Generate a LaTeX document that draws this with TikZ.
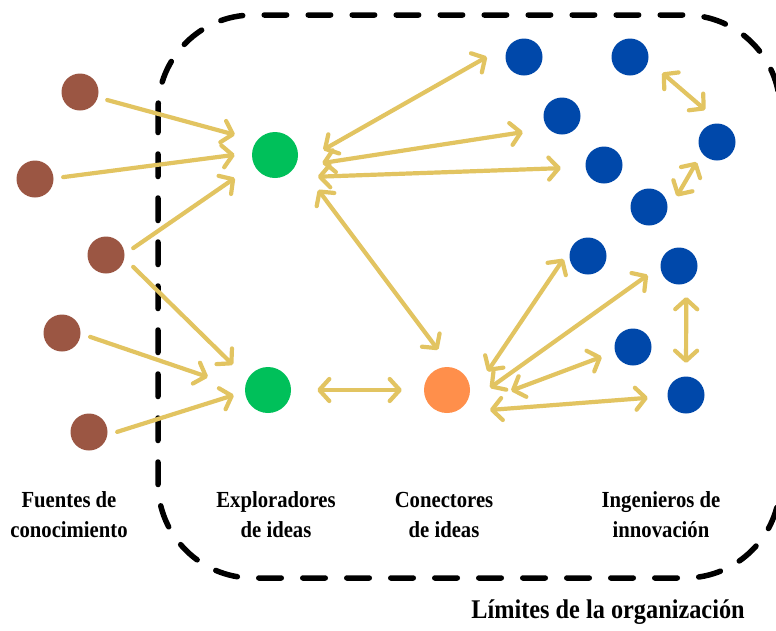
\documentclass[tikz,border=0pt]{standalone}
\usepackage{fontspec}
\setmainfont{Liberation Serif}[FakeStretch=0.9]
\usetikzlibrary{arrows.meta}
\definecolor{cbrown}{HTML}{9B5643}
\definecolor{cgreen}{HTML}{00C05A}
\definecolor{corange}{HTML}{FF8F4B}
\definecolor{cblue}{HTML}{0048AA}
\definecolor{cgold}{HTML}{E2C461}
\begin{document}
\begin{tikzpicture}[x=1pt,y=-1pt,
  >={Straight Barb[length=10pt,width=22pt,round]},
  dot/.style={circle, inner sep=0pt, minimum size=37pt},
  bigdot/.style={circle, inner sep=0pt, minimum size=46pt},
  src/.style={dot, fill=cbrown},
  expl/.style={bigdot, fill=cgreen},
  conx/.style={bigdot, fill=corange},
  eng/.style={dot, fill=cblue},
  conn/.style={draw=cgold, line width=4.2pt, line cap=round},
  one/.style={conn, ->},
  two/.style={conn, <->},
  lbl/.style={font=\bfseries\fontsize{23}{30}\selectfont, align=center, inner sep=0pt, anchor=south},
  border/.style={line width=5.5pt, dash pattern=on 22.5pt off 21.5pt, line cap=round, rounded corners=95pt}
]
\useasboundingbox (0,0) rectangle (776,630);
\fill[white] (0,0) rectangle (776,630);
% organisation boundary
\draw[border] (158,15) rectangle (780,578);
% nodes
\node[src] (b1) at (80,92) {};
\node[src] (b2) at (35,179) {};
\node[src] (b3) at (106,255) {};
\node[src] (b4) at (62,333) {};
\node[src] (b5) at (89,432) {};
\node[expl] (g1) at (275,155) {};
\node[expl] (g2) at (268,390) {};
\node[conx] (o) at (447,390) {};
\node[eng] (u1) at (524,57) {};
\node[eng] (u2) at (630,57) {};
\node[eng] (u3) at (562,116) {};
\node[eng] (u4) at (604,165) {};
\node[eng] (u5) at (717,142) {};
\node[eng] (u6) at (649,207) {};
\node[eng] (u7) at (588,256) {};
\node[eng] (u8) at (679,266) {};
\node[eng] (u9) at (633,347) {};
\node[eng] (u10) at (686,395) {};
% sources -> explorers
\draw[one, shorten <=9.7pt, shorten >=22.6pt] (b1.-17) -- (g1.142);
\draw[one, shorten <=9.6pt, shorten >=17.3pt] (b2.2) -- (g1.174.5);
\draw[one, shorten <=10.4pt, shorten >=23.3pt] (b3.3.5) -- (g1.205);
\draw[one, shorten <=12.3pt, shorten >=20.5pt] (b3.-10.5) -- (g2.152);
\draw[one, shorten <=10pt, shorten >=39pt] (b4.-2.4) -- (g2.179);
\draw[one, shorten <=10.2pt, shorten >=11.6pt] (b5.-9.6) -- (g2.184);
% explorer g1 <-> others
\draw[two, shorten <=31.7pt, shorten >=29.1pt] (g1.-27.6) -- (u1.129);
\draw[two, shorten <=27.9pt, shorten >=25.3pt] (g1.-32) -- (u3.-139);
\draw[two, shorten <=42pt, shorten >=24.6pt] (g1.-88) -- (u4.-173.5);
\draw[two, shorten <=35.1pt, shorten >=21.7pt] (g1.-17.5) -- (o.80);
% explorer g2 <-> connector
\draw[two, shorten <=26pt, shorten >=22pt] (g2.0) -- (o.180);
% connector <-> engineers
\draw[two, shorten <=37.2pt, shorten >=15.5pt] (o.-32) -- (u7.148);
\draw[two, shorten <=36.1pt, shorten >=15.4pt] (o.-54.4) -- (u8.180);
\draw[two, shorten <=59.2pt, shorten >=14.1pt] (o.-68) -- (u9.-165);
\draw[two, shorten <=40.6pt, shorten >=19.6pt] (o.-84.7) -- (u10.-176.6);
% engineers among themselves
\draw[two, shorten <=18.4pt, shorten >=21.5pt] (u2.-12.5) -- (u5.76.6);
\draw[two, shorten <=10.5pt, shorten >=22.6pt] (u5.-144) -- (u6.-28);
\draw[two, shorten <=13.9pt, shorten >=13.5pt] (u8.-67.7) -- (u10.90);
% labels
\node[lbl] (lsrc) at (69,538) {Fuentes de\\conocimiento};
\node[lbl] (lexp) at (276,538) {Exploradores\\de ideas};
\node[lbl] (lcon) at (444,538) {Conectores\\de ideas};
\node[lbl] (ling) at (661,538) {Ingenieros de\\innovación};
\node[font=\bfseries\fontsize{27}{32}\selectfont, inner sep=0pt, anchor=base] (lim) at (608,618) {Límites de la organización};
\end{tikzpicture}
\end{document}
